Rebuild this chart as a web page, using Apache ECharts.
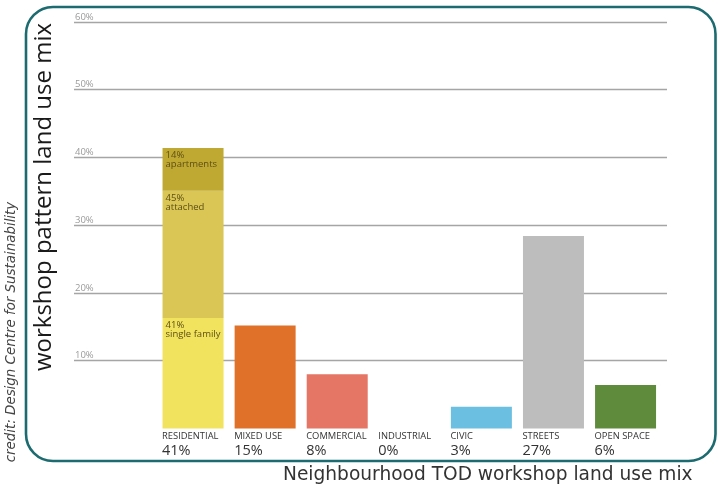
<!DOCTYPE html>
<html>
<head>
<meta charset="utf-8">
<script src="https://cdn.jsdelivr.net/npm/echarts@6/dist/echarts.min.js"></script>
<style>
html,body{margin:0;padding:0;background:#fff;}
#chart{width:718px;height:487px;}
</style>
</head>
<body>
<div id="chart"></div>
<script>
// ---- data ----
var categories = ['RESIDENTIAL', 'MIXED USE', 'COMMERCIAL', 'INDUSTRIAL', 'CIVIC', 'STREETS', 'OPEN SPACE'];
var pctLabels = ['41%', '15%', '8%', '0%', '3%', '27%', '6%'];
var otherValues = ['-', 15.2, 8.0, 0, 3.2, 28.4, 6.4];
var otherColors = ['#f2e35e', '#e07128', '#e57565', '#999999', '#6bbfe1', '#bdbdbd', '#5e8b3c'];
var residentialParts = ['single family', 'attached', 'apartments'];
var residentialShares = ['41%', '45%', '14%'];
var residentialValues = [16.3, 18.8, 6.3];
var residentialColors = ['#f2e35e', '#d9c655', '#bfa932'];
var yTicks = [0, 10, 20, 30, 40, 50, 60];

var chart = echarts.init(document.getElementById('chart'), null, {renderer: 'canvas'});

var yMin = yTicks[0], yMax = yTicks[yTicks.length - 1], yStep = yTicks[1] - yTicks[0];

var series = [];
series.push({
  type: 'bar', name: 'other', stack: 'a', xAxisIndex: 1, yAxisIndex: 1,
  barWidth: 61,
  data: otherValues.map(function (v, i) {
    return {value: v, itemStyle: {color: otherColors[i]}};
  }),
  silent: true
});
residentialParts.forEach(function (p, k) {
  var d = categories.map(function (c, i) { return i === 0 ? residentialValues[k] : '-'; });
  series.push({
    type: 'bar', name: p, stack: 'a', xAxisIndex: 1, yAxisIndex: 1,
    barWidth: 61,
    itemStyle: {color: residentialColors[k]},
    label: {
      show: true, position: 'insideTopLeft', distance: 3,
      formatter: residentialShares[k] + '\n' + p,
      fontFamily: 'Open Sans', fontSize: 9.5, lineHeight: 9, color: '#5e4f14'
    },
    data: d,
    silent: true
  });
});

var option = {
  animation: false,
  backgroundColor: '#ffffff',
  grid: [
    {left: 74, right: 51, top: 22, bottom: 58.6},
    {left: 157, right: 56.4, top: 22, bottom: 58.6}
  ],
  xAxis: [
    {type: 'value', gridIndex: 0, show: false, min: 0, max: 1},
    {
      type: 'category', gridIndex: 1, data: categories,
      axisLine: {show: false}, axisTick: {show: false},
      axisLabel: {
        interval: 0, margin: 2, align: 'center', verticalAlign: 'top',
        formatter: function (v, i) { return '{a|' + v + '}\n{b|' + pctLabels[i] + '}'; },
        rich: {
          a: {fontFamily: 'Open Sans', fontSize: 9.4, color: '#333', width: 62, align: 'left', lineHeight: 12},
          b: {fontFamily: 'Open Sans', fontSize: 14.5, color: '#333', width: 62, align: 'left', lineHeight: 16}
        }
      }
    }
  ],
  yAxis: [
    {
      type: 'value', gridIndex: 0, min: yMin, max: yMax, interval: yStep,
      axisLine: {show: false}, axisTick: {show: false},
      axisLabel: {
        inside: true, margin: 1, verticalAlign: 'bottom', align: 'left',
        fontFamily: 'Open Sans', fontSize: 9.5, color: '#9a9a9a',
        formatter: function (v) { return v === 0 ? '' : v + '%'; }
      },
      splitLine: {show: true, lineStyle: {width: 1.3, color: yTicks.map(function (t, i) { return i === 0 ? 'rgba(0,0,0,0)' : '#a5a5a5'; })}}
    },
    {type: 'value', gridIndex: 1, min: yMin, max: yMax, interval: yStep, show: false, splitLine: {show: false}}
  ],
  series: series,
  graphic: [
    {
      type: 'rect', z: 10, silent: true,
      shape: {x: 26, y: 7, width: 689.5, height: 454, r: 27},
      style: {fill: 'none', stroke: '#1c6b70', lineWidth: 2.6}
    },
    {
      type: 'text', z: 10, silent: true,
      x: 44, y: 197, rotation: Math.PI / 2,
      style: {text: 'workshop pattern land use mix', fontFamily: 'Open Sans', fontSize: 24, fill: '#1a1a1a', align: 'center', verticalAlign: 'middle'}
    },
    {
      type: 'text', z: 10, silent: true,
      x: 12, y: 332, rotation: Math.PI / 2,
      style: {text: 'credit: Design Centre for Sustainability', fontFamily: 'DejaVu Sans', fontStyle: 'italic', fontSize: 13.4, fill: '#444', align: 'center', verticalAlign: 'middle'}
    },
    {
      type: 'text', z: 10, silent: true,
      x: 283, y: 475,
      style: {text: 'Neighbourhood TOD workshop land use mix', fontFamily: 'DejaVu Sans', fontSize: 18.6, fill: '#333', align: 'left', verticalAlign: 'middle'}
    }
  ]
};
chart.setOption(option);
</script>
</body>
</html>
